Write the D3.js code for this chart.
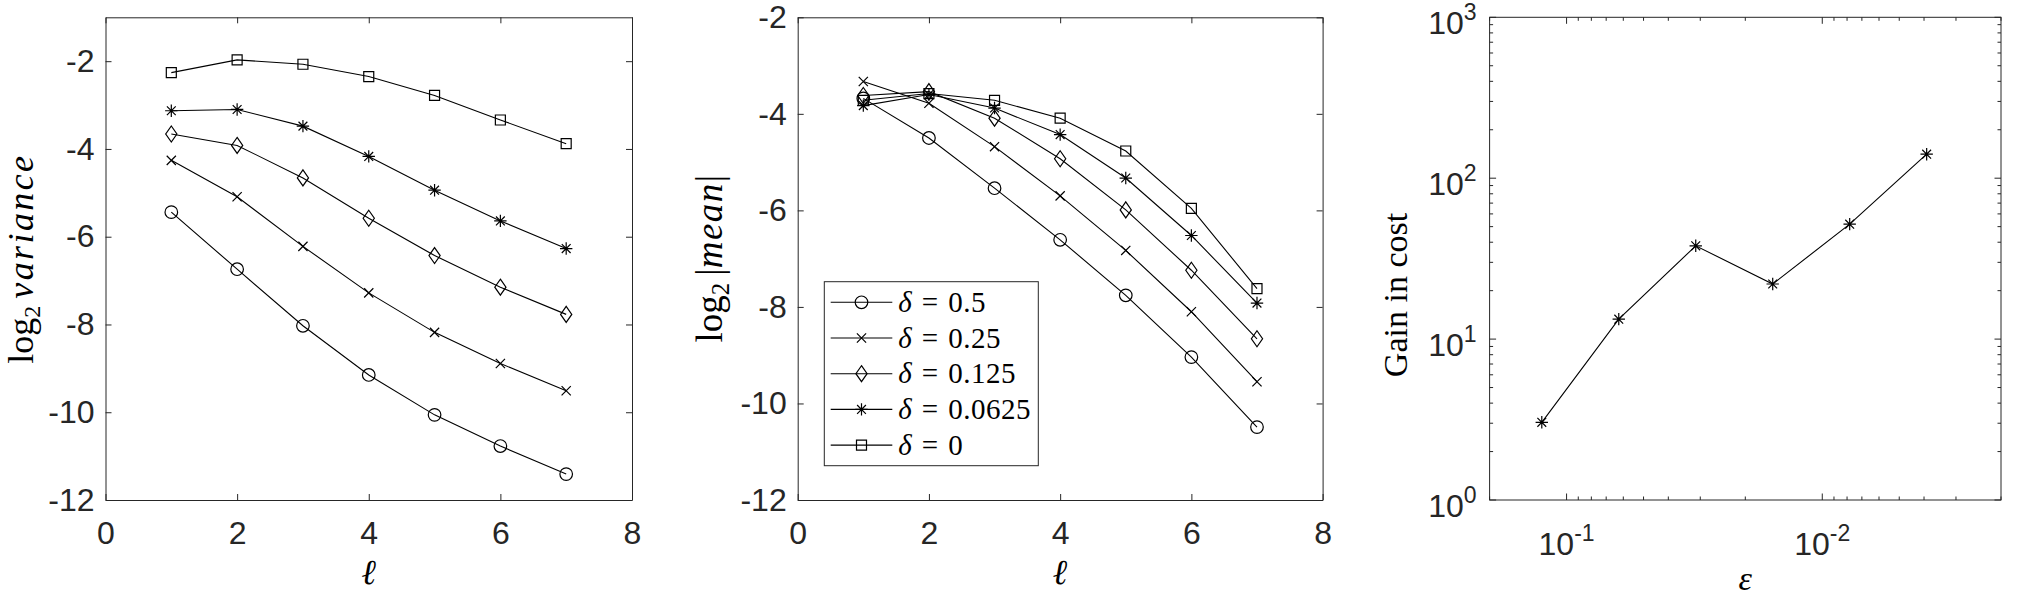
<!DOCTYPE html>
<html>
<head>
<meta charset="utf-8">
<script src="https://cdn.jsdelivr.net/npm/d3@7"></script>
<style>
  body { margin: 0; background: #fff; }
  svg { display: block; }
</style>
</head>
<body>
<div id="chart"></div>
<script>
// ---- data ----
const levels = [1, 2, 3, 4, 5, 6, 7];
const deltaLabels = ["0.5", "0.25", "0.125", "0.0625", "0"];
const markerTypes = ["circle", "cross", "diamond", "star", "square"];

// log2 variance, one row per delta
const log2Variance = [
  [-5.44, -6.74, -8.03, -9.15, -10.06, -10.77, -11.41],
  [-4.26, -5.09, -6.22, -7.28, -8.18, -8.89, -9.51],
  [-3.66, -3.92, -4.66, -5.58, -6.43, -7.15, -7.77],
  [-3.13, -3.10, -3.48, -4.17, -4.94, -5.64, -6.27],
  [-2.26, -1.97, -2.07, -2.35, -2.78, -3.34, -3.88]
];

// log2 |mean|, one row per delta
const log2Mean = [
  [-3.68, -4.50, -5.54, -6.61, -7.76, -9.04, -10.49],
  [-3.33, -3.78, -4.68, -5.70, -6.83, -8.10, -9.55],
  [-3.62, -3.54, -4.09, -4.93, -5.99, -7.24, -8.66],
  [-3.83, -3.60, -3.88, -4.43, -5.33, -6.52, -7.92],
  [-3.72, -3.58, -3.72, -4.09, -4.77, -5.96, -7.62]
];

const epsValues = [0.125, 0.0625, 0.03125, 0.015625, 0.0078125, 0.00390625];
const gainValues = [3.04, 13.3, 38.0, 22.0, 51.8, 141];

const levelTicks = [0, 2, 4, 6, 8];
const log2Ticks = [-12, -10, -8, -6, -4, -2];

// ---- layout ----
const W = 2017, H = 598;
const plotTop = 17.3, plotBottom = 500;
const axisColor = "#262626";
const sans = "'Liberation Sans', Arial, Helvetica, sans-serif";
const serif = "'Liberation Serif', 'Times New Roman', serif";

const svg = d3.select("#chart").append("svg")
  .attr("width", W)
  .attr("height", H);

function markerPath(type) {
  if (type === "circle") return "M6.3,0A6.3,6.3 0 1,1 -6.3,0A6.3,6.3 0 1,1 6.3,0Z";
  if (type === "square") return "M-5,-5H5V5H-5Z";
  if (type === "diamond") return "M0,-8L5.6,0L0,8L-5.6,0Z";
  if (type === "cross") return "M-4.6,-4.6L4.6,4.6M-4.6,4.6L4.6,-4.6";
  // asterisk
  return "M0,-6.2V6.2M-6.2,0H6.2M-4.4,-4.4L4.4,4.4M-4.4,4.4L4.4,-4.4";
}

function styleAxis(g) {
  g.attr("font-family", sans).attr("font-size", 32);
  g.selectAll("path, line").attr("stroke", axisColor).attr("stroke-width", 1);
  g.selectAll("text").attr("fill", axisColor);
}

function drawSeries(g, x, y, xs, ys, type) {
  const line = d3.line().x((d, i) => x(xs[i])).y(d => y(d));
  g.append("path")
    .attr("d", line(ys))
    .attr("fill", "none")
    .attr("stroke", "#000")
    .attr("stroke-width", 1.1);
  g.selectAll(null)
    .data(ys)
    .join("path")
    .attr("transform", (d, i) => `translate(${x(xs[i])},${y(d)})`)
    .attr("d", markerPath(type))
    .attr("fill", "none")
    .attr("stroke", "#000")
    .attr("stroke-width", 1.2);
}

function linearPanel(left, right, yDomain, data) {
  const x = d3.scaleLinear().domain([0, 8]).range([left, right]);
  const y = d3.scaleLinear().domain(yDomain).range([plotBottom, plotTop]);
  const g = svg.append("g");

  g.append("g")
    .attr("transform", `translate(0,${plotBottom})`)
    .call(d3.axisBottom(x).tickValues(levelTicks).tickFormat(d => d)
      .tickSizeInner(-6).tickSizeOuter(0).tickPadding(21))
    .call(styleAxis);
  g.append("g")
    .attr("transform", `translate(0,${plotTop})`)
    .call(d3.axisTop(x).tickValues(levelTicks).tickFormat("")
      .tickSizeInner(-6).tickSizeOuter(0))
    .call(styleAxis);
  g.append("g")
    .attr("transform", `translate(${left},0)`)
    .call(d3.axisLeft(y).tickValues(log2Ticks).tickFormat(d => String(d))
      .tickSizeInner(-6).tickSizeOuter(0).tickPadding(11))
    .call(styleAxis);
  g.append("g")
    .attr("transform", `translate(${right},0)`)
    .call(d3.axisRight(y).tickValues(log2Ticks).tickFormat("")
      .tickSizeInner(-6).tickSizeOuter(0))
    .call(styleAxis);

  data.forEach((row, k) => drawSeries(g, x, y, levels, row, markerTypes[k]));

  // x label
  g.append("text")
    .attr("x", (left + right) / 2)
    .attr("y", 584)
    .attr("text-anchor", "middle")
    .attr("font-family", serif)
    .attr("font-style", "italic")
    .attr("font-size", 35)
    .attr("fill", "#000")
    .text("\u2113");
  return { g, x, y };
}

// ---- panel 1 ----
const p1 = linearPanel(105.5, 632, [-12, -1], log2Variance);
const lab1 = p1.g.append("text")
  .attr("transform", `translate(33,${(plotTop + plotBottom) / 2}) rotate(-90)`)
  .attr("text-anchor", "middle")
  .attr("font-family", serif)
  .attr("font-size", 36)
  .attr("fill", "#000");
lab1.append("tspan").text("log");
lab1.append("tspan").attr("font-size", 24).attr("dy", 7).text("2");
lab1.append("tspan").attr("dy", -7).attr("dx", 7)
  .attr("font-style", "italic").attr("letter-spacing", 2.4).text("variance");

// ---- panel 2 ----
const p2 = linearPanel(797.7, 1322.6, [-12, -2], log2Mean);
const lab2 = p2.g.append("text")
  .attr("transform", `translate(722,${(plotTop + plotBottom) / 2}) rotate(-90)`)
  .attr("text-anchor", "middle")
  .attr("font-family", serif)
  .attr("font-size", 37)
  .attr("fill", "#000");
lab2.append("tspan").text("log");
lab2.append("tspan").attr("font-size", 25).attr("dy", 7).text("2");
lab2.append("tspan").attr("dy", -7).attr("dx", 7).text("|");
lab2.append("tspan").attr("font-style", "italic").attr("letter-spacing", 1.5).text("mean");
lab2.append("tspan").text("|");

// legend
const legLeft = 824.3, legTop = 281.7, legW = 214, legH = 184, rowStep = 35.7;
const leg = p2.g.append("g");
leg.append("rect")
  .attr("x", legLeft).attr("y", legTop)
  .attr("width", legW).attr("height", legH)
  .attr("fill", "#fff")
  .attr("stroke", axisColor)
  .attr("stroke-width", 1);
deltaLabels.forEach((lbl, k) => {
  const cy = legTop + 20.6 + k * rowStep;
  leg.append("line")
    .attr("x1", legLeft + 6.4).attr("x2", legLeft + 68)
    .attr("y1", cy).attr("y2", cy)
    .attr("stroke", "#000").attr("stroke-width", 1.1);
  leg.append("path")
    .attr("transform", `translate(${legLeft + 37.2},${cy})`)
    .attr("d", markerPath(markerTypes[k]))
    .attr("fill", "none").attr("stroke", "#000").attr("stroke-width", 1.2);
  const t = leg.append("text")
    .attr("x", legLeft + 74)
    .attr("y", cy + 9.5)
    .attr("font-family", serif)
    .attr("font-size", 29)
    .attr("fill", "#000");
  t.append("tspan").attr("font-style", "italic").text("\u03b4");
  t.append("tspan").attr("dx", 10).text("=");
  t.append("tspan").attr("dx", 10).attr("letter-spacing", 0.5).text(lbl);
});

// ---- panel 3 (log-log, reversed x) ----
const left3 = 1489.6, right3 = 2001;
const x3 = d3.scaleLog().domain([0.2, 0.002]).range([left3, right3]);
const y3 = d3.scaleLog().domain([1, 1000]).range([plotBottom, plotTop]);
const g3 = svg.append("g");

const isMajor = v => Math.abs(Math.log10(v) - Math.round(Math.log10(v))) < 1e-9;
const xMinor = x3.ticks();
const yMinor = y3.ticks();

// frame
g3.append("rect")
  .attr("x", left3).attr("y", plotTop)
  .attr("width", right3 - left3).attr("height", plotBottom - plotTop)
  .attr("fill", "none").attr("stroke", axisColor).attr("stroke-width", 1);

g3.selectAll(null).data(xMinor).join("path")
  .attr("d", d => {
    const len = isMajor(d) ? 6.5 : 3.5;
    const px = x3(d);
    return `M${px},${plotBottom}V${plotBottom - len}M${px},${plotTop}V${plotTop + len}`;
  })
  .attr("stroke", axisColor).attr("stroke-width", 1);
g3.selectAll(null).data(yMinor).join("path")
  .attr("d", d => {
    const len = isMajor(d) ? 6.5 : 3.5;
    const py = y3(d);
    return `M${left3},${py}H${left3 + len}M${right3},${py}H${right3 - len}`;
  })
  .attr("stroke", axisColor).attr("stroke-width", 1);

// tick labels with superscripts
const xMajor = xMinor.filter(isMajor);
const yMajor = yMinor.filter(isMajor);
xMajor.forEach(v => {
  const t = g3.append("text")
    .attr("x", x3(v))
    .attr("y", 555)
    .attr("text-anchor", "middle")
    .attr("font-family", sans)
    .attr("font-size", 32)
    .attr("fill", axisColor);
  t.append("tspan").text("10");
  t.append("tspan").attr("font-size", 23).attr("dy", -14).text(String(Math.round(Math.log10(v))));
});
yMajor.forEach(v => {
  const t = g3.append("text")
    .attr("x", left3 - 13)
    .attr("y", y3(v) + 16.5)
    .attr("text-anchor", "end")
    .attr("font-family", sans)
    .attr("font-size", 32)
    .attr("fill", axisColor);
  t.append("tspan").text("10");
  t.append("tspan").attr("font-size", 23).attr("dy", -14).text(String(Math.round(Math.log10(v))));
});

drawSeries(g3, x3, y3, epsValues, gainValues, "star");

g3.append("text")
  .attr("transform", `translate(1407,295) rotate(-90)`)
  .attr("text-anchor", "middle")
  .attr("font-family", serif)
  .attr("font-size", 34)
  .attr("fill", "#000")
  .text("Gain in cost");

g3.append("text")
  .attr("x", (left3 + right3) / 2)
  .attr("y", 590)
  .attr("text-anchor", "middle")
  .attr("font-family", serif)
  .attr("font-style", "italic")
  .attr("font-size", 34)
  .attr("fill", "#000")
  .text("\u03b5");
</script>
</body>
</html>
